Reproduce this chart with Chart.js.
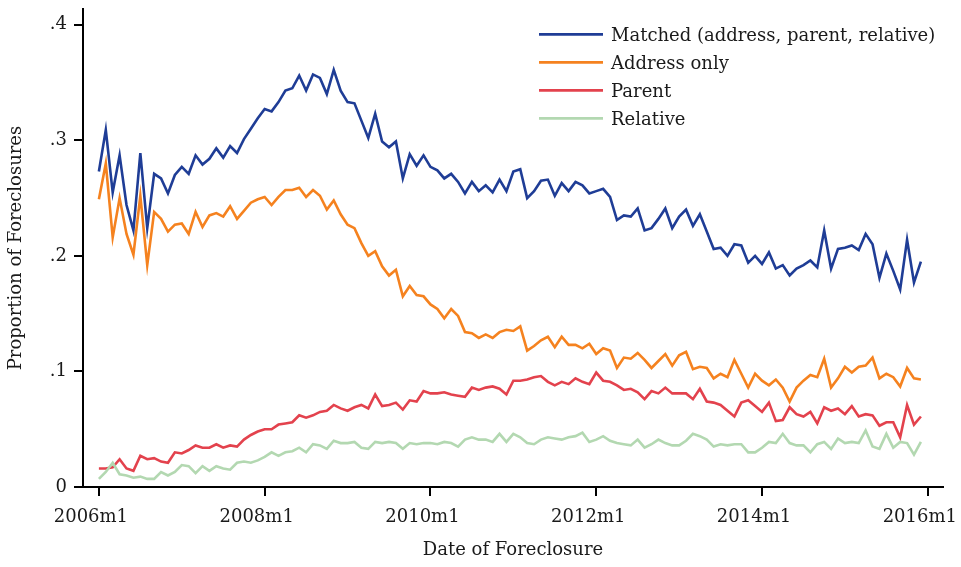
<!DOCTYPE html>
<html>
<head>
<meta charset="utf-8">
<script src="https://cdn.jsdelivr.net/npm/chart.js@4.4.1/dist/chart.umd.min.js"></script>
<style>
html,body{margin:0;padding:0;background:#fff;}
#wrap{width:961px;height:567px;position:relative;}
</style>
</head>
<body>
<div id="wrap"><canvas id="c" width="961" height="567"></canvas></div>
<script>
// Months since 2006m1 (index 0 = 2006m1 ... 119 = 2015m12)
const seriesLabels = ["Matched (address, parent, relative)", "Address only", "Parent", "Relative"];
const seriesColors = ["#1f3d96", "#f5821f", "#e3424d", "#b3d8b1"];

const xTickMonths = [0, 24, 48, 72, 96, 120];
const xTickLabels = ["2006m1", "2008m1", "2010m1", "2012m1", "2014m1", "2016m1"];
const yTickValues = [0, 0.1, 0.2, 0.3, 0.4];
const yTickLabels = ["0", ".1", ".2", ".3", ".4"];

const matched = [
0.273,0.309,0.255,0.287,0.244,0.222,0.289,0.224,0.271,0.267,
0.254,0.270,0.277,0.271,0.287,0.279,0.284,0.293,0.285,0.295,
0.289,0.301,0.310,0.319,0.327,0.325,0.333,0.343,0.345,0.356,
0.343,0.357,0.354,0.340,0.361,0.343,0.333,0.332,0.317,0.302,
0.323,0.299,0.294,0.299,0.267,0.288,0.278,0.287,0.277,0.274,
0.267,0.271,0.264,0.254,0.264,0.256,0.261,0.255,0.266,0.256,
0.273,0.275,0.250,0.256,0.265,0.266,0.252,0.263,0.256,0.264,
0.261,0.254,0.256,0.258,0.251,0.231,0.235,0.234,0.241,0.222,
0.224,0.232,0.241,0.224,0.234,0.240,0.226,0.236,0.221,0.206,
0.207,0.200,0.210,0.209,0.194,0.200,0.193,0.203,0.189,0.192,
0.183,0.189,0.192,0.196,0.190,0.222,0.189,0.206,0.207,0.209,
0.205,0.219,0.210,0.181,0.202,0.187,0.171,0.214,0.177,0.195
];
const addressOnly = [
0.249,0.280,0.216,0.250,0.219,0.201,0.252,0.192,0.238,0.232,
0.221,0.227,0.228,0.219,0.238,0.225,0.235,0.237,0.234,0.243,
0.232,0.239,0.246,0.249,0.251,0.244,0.251,0.257,0.257,0.259,
0.251,0.257,0.252,0.240,0.248,0.236,0.227,0.224,0.211,0.200,
0.204,0.191,0.183,0.188,0.165,0.174,0.166,0.165,0.158,0.154,
0.146,0.154,0.148,0.134,0.133,0.129,0.132,0.129,0.134,0.136,
0.135,0.139,0.118,0.122,0.127,0.130,0.121,0.130,0.123,0.123,
0.120,0.124,0.115,0.120,0.118,0.103,0.112,0.111,0.116,0.110,
0.103,0.109,0.115,0.105,0.114,0.117,0.102,0.104,0.103,0.094,
0.098,0.095,0.110,0.098,0.086,0.098,0.092,0.088,0.093,0.086,
0.074,0.086,0.092,0.097,0.095,0.111,0.086,0.094,0.104,0.099,
0.104,0.105,0.112,0.094,0.098,0.095,0.087,0.103,0.094,0.093
];
const parent = [
0.016,0.016,0.017,0.024,0.016,0.014,0.027,0.024,0.025,0.022,
0.021,0.030,0.029,0.032,0.036,0.034,0.034,0.037,0.034,0.036,
0.035,0.041,0.045,0.048,0.050,0.050,0.054,0.055,0.056,0.062,
0.060,0.062,0.065,0.066,0.071,0.068,0.066,0.069,0.071,0.068,
0.080,0.070,0.071,0.073,0.067,0.075,0.074,0.083,0.081,0.081,
0.082,0.080,0.079,0.078,0.086,0.084,0.086,0.087,0.085,0.080,
0.092,0.092,0.093,0.095,0.096,0.091,0.088,0.091,0.089,0.094,
0.091,0.089,0.099,0.092,0.091,0.088,0.084,0.085,0.082,0.076,
0.083,0.081,0.086,0.081,0.081,0.081,0.076,0.085,0.074,0.073,
0.071,0.066,0.061,0.073,0.075,0.070,0.065,0.073,0.057,0.058,
0.069,0.063,0.061,0.065,0.055,0.069,0.066,0.068,0.063,0.070,
0.061,0.063,0.062,0.053,0.056,0.056,0.043,0.071,0.054,0.061
];
const relative = [
0.007,0.013,0.021,0.011,0.010,0.008,0.009,0.007,0.007,0.013,
0.010,0.013,0.019,0.018,0.012,0.018,0.014,0.018,0.016,0.015,
0.021,0.022,0.021,0.023,0.026,0.030,0.027,0.030,0.031,0.034,
0.030,0.037,0.036,0.033,0.040,0.038,0.038,0.039,0.034,0.033,
0.039,0.038,0.039,0.038,0.033,0.038,0.037,0.038,0.038,0.037,
0.039,0.038,0.035,0.041,0.043,0.041,0.041,0.039,0.046,0.039,
0.046,0.043,0.038,0.037,0.041,0.043,0.042,0.041,0.043,0.044,
0.047,0.039,0.041,0.044,0.040,0.038,0.037,0.036,0.041,0.034,
0.037,0.041,0.038,0.036,0.036,0.040,0.046,0.044,0.041,0.035,
0.037,0.036,0.037,0.037,0.030,0.030,0.034,0.039,0.038,0.046,
0.038,0.036,0.036,0.030,0.037,0.039,0.033,0.042,0.038,0.039,
0.038,0.049,0.035,0.033,0.046,0.034,0.039,0.038,0.028,0.039
];

const seriesValues = [matched, addressOnly, parent, relative];
const FONT = "'DejaVu Serif', serif";
const TXT = "#1a1a1a";

const datasets = seriesValues.map((vals, k) => ({
  label: seriesLabels[k],
  data: vals.map((v, i) => ({x: i, y: v})),
  borderColor: seriesColors[k],
  backgroundColor: seriesColors[k],
  borderWidth: 2.6,
  pointRadius: 0,
  tension: 0,
  fill: false
})).reverse();

const legendPlugin = {
  id: 'customLegend',
  afterDraw(chart) {
    const ctx = chart.ctx;
    ctx.save();
    ctx.font = "18px " + FONT;
    ctx.textBaseline = 'alphabetic';
    ctx.textAlign = 'left';
    seriesLabels.forEach((lab, k) => {
      const y = 34.3 + 28 * k;
      ctx.strokeStyle = seriesColors[k];
      ctx.lineWidth = 2.8;
      ctx.beginPath();
      ctx.moveTo(539, y);
      ctx.lineTo(603, y);
      ctx.stroke();
      ctx.fillStyle = TXT;
      ctx.fillText(lab, 611, y + 6.8);
    });
    ctx.restore();
  }
};

new Chart(document.getElementById('c'), {
  type: 'line',
  data: { datasets },
  plugins: [legendPlugin],
  options: {
    responsive: false,
    animation: false,
    layout: { padding: { top: 9, right: 18, left: 0, bottom: 0 } },
    plugins: { legend: { display: false }, tooltip: { enabled: false } },
    scales: {
      x: {
        type: 'linear',
        position: 'bottom',
        min: -2.3,
        max: 122.2,
        afterBuildTicks: (s) => { s.ticks = xTickMonths.map(v => ({value: v})); },
        afterFit: (s) => { s.height = 80; s.paddingLeft = 0; s.paddingRight = 0; },
        ticks: {
          autoSkip: false, maxRotation: 0, minRotation: 0,
          padding: 11,
          labelOffset: -8,
          color: TXT,
          font: { family: FONT, size: 18 },
          callback: (v) => { const j = xTickMonths.indexOf(v); return j >= 0 ? xTickLabels[j] : ''; }
        },
        grid: { drawOnChartArea: false, drawTicks: true, tickLength: 9, color: '#000', lineWidth: 2 },
        border: { display: true, color: '#000', width: 2 },
        title: { display: true, text: 'Date of Foreclosure', color: TXT, font: { family: FONT, size: 18 }, padding: { top: 0, bottom: 6 } }
      },
      y: {
        type: 'linear',
        min: 0,
        max: 0.4136,
        afterBuildTicks: (s) => { s.ticks = yTickValues.map(v => ({value: v})); },
        afterFit: (s) => { s.width = 83; s.paddingTop = 0; s.paddingBottom = 0; },
        ticks: {
          padding: 7,
          color: TXT,
          font: { family: FONT, size: 18 },
          callback: (v) => { const j = yTickValues.findIndex(t => Math.abs(t - v) < 1e-9); return j >= 0 ? yTickLabels[j] : ''; }
        },
        grid: { drawOnChartArea: false, drawTicks: true, tickLength: 9, color: '#000', lineWidth: 2 },
        border: { display: true, color: '#000', width: 2 },
        title: { display: true, text: 'Proportion of Foreclosures', color: TXT, font: { family: FONT, size: 18 }, padding: { top: 6, bottom: 0 } }
      }
    }
  }
});
</script>
</body>
</html>
